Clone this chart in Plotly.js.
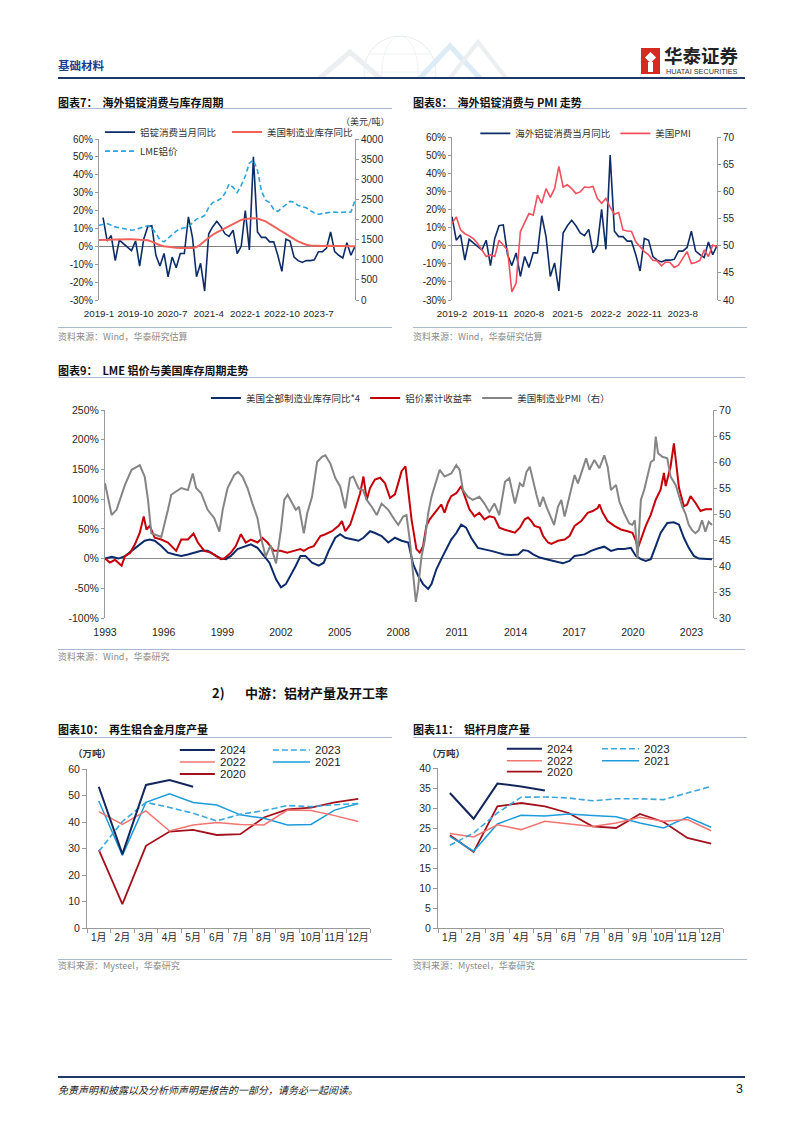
<!DOCTYPE html>
<html><head><meta charset="utf-8">
<script src="https://cdn.plot.ly/plotly-3.0.1.min.js"></script>
<style>
html,body{margin:0;padding:0;background:#fff;}
body{width:802px;height:1133px;position:relative;overflow:hidden;font-family:"Noto Sans CJK SC","Liberation Sans",sans-serif;color:#222;}
.a{position:absolute;white-space:nowrap;}
.t{font-size:11px;font-weight:bold;line-height:14px;color:#111;}
.hr{position:absolute;height:0;border-top:1px solid #a9b9d2;}
.s{font-size:9px;line-height:12px;color:#8a8a8a;}
.c{position:absolute;}
</style></head><body>

<!-- header -->
<div class="a" style="left:58px;top:57px;font-size:11.5px;font-weight:bold;color:#1c3f94;">基础材料</div>
<svg class="a" style="left:300px;top:32px;" width="220" height="46">
  <g fill="none" opacity="0.4">
    <circle cx="100" cy="40" r="36" stroke="#c9d0da" stroke-width="1"/>
    <ellipse cx="100" cy="40" rx="18" ry="36" stroke="#d3d9e1" stroke-width="0.8"/>
    <path d="M64 40 H136 M70 22 H130" stroke="#d3d9e1" stroke-width="0.8"/>
    <path d="M20 46 L50 20 L80 46" stroke="#d0d6de" stroke-width="5"/>
    <path d="M120 46 L150 14 L180 46" stroke="#a9d0ec" stroke-width="5"/>
    <path d="M150 46 L178 10 L206 46" stroke="#d0d6de" stroke-width="4"/>
  </g>
</svg>
<div class="a" style="left:641px;top:48px;width:19px;height:26px;background:#d42a20;"></div>
<div class="a" style="left:645px;top:52px;width:11px;height:11px;background:#fff;transform:rotate(45deg) scale(0.72);"></div>
<div class="a" style="left:648px;top:62px;width:5px;height:10px;background:#fff;"></div>
<div class="a" style="left:664px;top:44px;font-size:18.5px;font-weight:bold;color:#222;line-height:22px;">华泰证券</div>
<div class="a" style="left:666px;top:67px;font-size:7.3px;color:#333;font-family:'Liberation Sans',sans-serif;line-height:9px;">HUATAI SECURITIES</div>
<div class="a" style="left:58px;top:77px;width:687px;height:2px;background:#1f3864;"></div>

<!-- chart 7 -->
<div class="a t" style="left:58px;top:95px;">图表7：&nbsp;&nbsp;海外铝锭消费与库存周期</div>
<div class="hr" style="left:58px;top:108px;width:334px;"></div>
<div id="c7" class="c" style="left:58px;top:112px;width:334px;height:215px;"></div>
<div class="hr" style="left:58px;top:327px;width:334px;"></div>
<div class="a s" style="left:58px;top:331px;">资料来源：Wind，华泰研究估算</div>

<!-- chart 8 -->
<div class="a t" style="left:413px;top:95px;">图表8：&nbsp;&nbsp;海外铝锭消费与 PMI 走势</div>
<div class="hr" style="left:413px;top:108px;width:334px;"></div>
<div id="c8" class="c" style="left:413px;top:112px;width:334px;height:215px;"></div>
<div class="hr" style="left:413px;top:327px;width:334px;"></div>
<div class="a s" style="left:413px;top:331px;">资料来源：Wind，华泰研究估算</div>

<!-- chart 9 -->
<div class="a t" style="left:58px;top:363px;">图表9：&nbsp;&nbsp;LME 铝价与美国库存周期走势</div>
<div class="hr" style="left:58px;top:377px;width:687px;"></div>
<div id="c9" class="c" style="left:58px;top:380px;width:687px;height:268px;"></div>
<div class="hr" style="left:58px;top:649px;width:687px;"></div>
<div class="a s" style="left:58px;top:651px;">资料来源：Wind，华泰研究</div>

<!-- section heading -->
<div class="a" style="left:212px;top:684px;font-size:13px;font-weight:bold;color:#111;line-height:17px;">2)</div>
<div class="a" style="left:245px;top:684px;font-size:13px;font-weight:bold;color:#111;line-height:17px;">中游：铝材产量及开工率</div>

<!-- chart 10 -->
<div class="a t" style="left:58px;top:722px;">图表10：&nbsp;&nbsp;再生铝合金月度产量</div>
<div class="hr" style="left:58px;top:737px;width:334px;"></div>
<div id="c10" class="c" style="left:58px;top:738px;width:334px;height:220px;"></div>
<div class="hr" style="left:58px;top:959px;width:334px;"></div>
<div class="a s" style="left:58px;top:960px;">资料来源：Mysteel，华泰研究</div>

<!-- chart 11 -->
<div class="a t" style="left:413px;top:722px;">图表11：&nbsp;&nbsp;铝杆月度产量</div>
<div class="hr" style="left:413px;top:737px;width:334px;"></div>
<div id="c11" class="c" style="left:413px;top:738px;width:334px;height:220px;"></div>
<div class="hr" style="left:413px;top:959px;width:334px;"></div>
<div class="a s" style="left:413px;top:960px;">资料来源：Mysteel，华泰研究</div>

<!-- footer -->
<div class="a" style="left:58px;top:1076px;width:687px;height:2px;background:#1f3864;"></div>
<div class="a" style="left:58px;top:1083px;font-size:10px;font-style:italic;color:#222;line-height:14px;">免责声明和披露以及分析师声明是报告的一部分，请务必一起阅读。</div>
<div class="a" style="left:736px;top:1081px;font-size:12.5px;color:#222;font-family:'Liberation Sans',sans-serif;line-height:16px;">3</div>

<script>
const FN = 'Liberation Sans, Arial, sans-serif';
const FC = 'Noto Sans CJK SC, sans-serif';
const FM = 'Liberation Sans, Noto Sans CJK SC, sans-serif';
const TXT = '#262626';
const AXC = '#9a9a9a';

// ---------------- Charts 7 & 8 data ----------------
const months7 = [];
for (let y = 2019; y <= 2024; y++) for (let m = 1; m <= 12; m++) { if (y === 2024 && m > 4) break; months7.push(y + '-' + m); }
const months8 = months7.slice(1); // 2019-2 .. 2024-4
const ticks7 = ['2019-1','2019-10','2020-7','2021-4','2022-1','2022-10','2023-7'];
const ticks8 = ['2019-2','2019-11','2020-8','2021-5','2022-2','2022-11','2023-8'];
const pctVals7 = [-30,-20,-10,0,10,20,30,40,50,60];
const pctText7 = ['-30%','-20%','-10%','0%','10%','20%','30%','40%','50%','60%'];

// 海外铝锭消费当月同比 (%), 2019-2 .. 2024-4
const alConsYoY = [16,3,6,-8,3.5,1.5,0,-2.4,3,-11, 4,11,11.5,-5,-11,-4,-17,-6,-12,-4,
  -4,16.5,5,-17,-9.5,-25,7,11,14,11, 7,5.5,9,-4,0,20,-2,50,8,5,
  5,2.5,2.5,-5,-14,4,3,-6,-8,-9, -8,-8,-7.5,-3,-3,-1,8,-3,-5,-6.5, 2,-5,0];
// 美国制造业库存同比 (%), 2019-1 .. 2024-4
const usInvYoY = [3.6,3.7,3.8,3.9,4.0,4.0,4.1,4.0,3.9,3.8, 3.8,3.7,3.4,2.6,1.5,0.6,0.1,-0.3,-0.6,-0.8,
  -1.0,-1.1,-1.1,-0.9,-0.4,1.0,3.0,5.0,6.5,7.8, 9.0,10.2,11.4,12.6,13.8,14.8,15.3,15.6,15.7,15.5,
  14.9,14.0,12.5,11.0,9.8,8.3,7.0,5.3,4.0,2.8, 1.8,0.9,0.5,0.3,0.2,0.2,0.3,0.2,0.2,0.2, 0.1,0.2,0.1,0.1];
// LME 铝价 (美元/吨), 2019-1 .. 2024-4
const lmeAl = [1858,1880,1900,1860,1817,1795,1775,1755,1735,1750, 1775,1815,1850,1790,1660,1490,1445,1540,1640,1710,
  1770,1795,1815,1920,2010,2040,2100,2300,2420,2460, 2520,2650,2880,2800,2670,2850,3080,3400,3480,3220,
  2700,2480,2420,2250,2200,2290,2380,2450,2430,2350, 2320,2290,2220,2160,2130,2150,2165,2180,2185,2170,
  2180,2175,2185,2480];
// 美国PMI, 2019-2 .. 2024-4
const usPMI = [54.1,55.3,52.9,52.2,51.8,51.3,50.4,49.2,48,48.3, 48,51,50.1,49.2,41.5,43.1,52.6,54.4,55.9,55.6,
  59.3,57.8,60.5,58.9,60.5,64.6,60.8,61.2,60.5,59.6, 59.9,60.8,60.7,60.9,58.7,57.8,58.7,57.1,55.8,56.1,
  52.9,52.7,52.6,50.7,49.8,48.9,48.3,47.3,47.2,46.3, 47,46.9,46,46.4,47.7,48.9,46.7,46.9,47.3,49.2, 48,50.1,49.8];

// ---------------- Chart 9 data: [year, value] ----------------
const invYoY4 = [[1993.0,0],[1993.34,3],[1993.69,0],[1994.02,4],[1994.36,13],[1994.69,21],[1995.03,30],[1995.29,32],[1995.54,30],[1995.88,21],
 [1996.22,10],[1996.56,7],[1996.9,4.5],[1997.24,7],[1997.58,10],[1997.92,13],[1998.25,13],[1998.59,7],[1998.93,0],[1999.19,-1],
 [1999.44,4.5],[1999.78,16],[2000.12,20],[2000.46,24],[2000.8,18],[2001.14,4.5],[2001.41,-7],[2001.75,-35],[2002.0,-48.5],[2002.25,-43],
 [2002.5,-29],[2002.76,-12],[2003.0,4.5],[2003.25,4.5],[2003.59,-7],[2003.93,-12],[2004.19,-7],[2004.44,13],[2004.78,35],[2005.03,41],
 [2005.29,35],[2005.63,32],[2005.97,30],[2006.22,35],[2006.56,46],[2006.81,43],[2007.15,38],[2007.49,27],[2007.83,35],[2008.17,30],
 [2008.51,27],[2008.76,-9.5],[2009.02,-29],[2009.27,-43],[2009.53,-51],[2009.7,-43],[2009.95,-18],[2010.2,-1],[2010.46,16],[2010.71,32],
 [2010.97,43],[2011.22,57],[2011.47,52],[2011.73,35],[2012.07,18],[2012.41,16],[2012.75,13],[2013.08,10],[2013.42,7],[2013.76,6],
 [2014.14,7],[2014.39,14.5],[2014.64,13],[2014.9,7],[2015.24,1.7],[2015.58,-1],[2016.0,-4],[2016.42,-8],[2016.76,-4],[2017.02,4.5],
 [2017.53,7],[2017.86,13],[2018.2,17],[2018.54,20],[2018.88,13],[2019.22,16],[2019.56,16],[2019.9,18],[2020.15,4.5],[2020.41,-1],
 [2020.66,-4],[2020.92,-1],[2021.17,21],[2021.42,43],[2021.76,60],[2022.1,61],[2022.36,57],[2022.61,35],[2022.86,18],[2023.12,4.5],
 [2023.37,0],[2023.71,0],[2024.05,-1]];
const alCumRet = [[1993.0,0],[1993.25,-6.7],[1993.51,-2],[1993.85,-12],[1994.02,4],[1994.27,9],[1994.53,24],[1994.78,43.5],[1994.98,71],[1995.12,49],
 [1995.29,55],[1995.54,35],[1995.88,32],[1996.22,27],[1996.64,13],[1996.9,32],[1997.24,32],[1997.53,42],[1997.75,27],[1998.08,13],
 [1998.42,10],[1998.93,-1],[1999.1,0],[1999.44,10],[1999.69,21],[1999.95,41],[2000.2,27],[2000.46,32],[2000.8,27],[2001.05,35],
 [2001.31,27],[2001.64,13],[2001.98,13],[2002.32,10],[2002.66,13],[2003.0,16],[2003.17,13],[2003.42,18],[2003.68,21],[2004.02,38],
 [2004.27,41],[2004.61,46],[2004.95,55],[2005.12,63],[2005.29,46],[2005.54,57],[2005.8,83],[2006.05,110],[2006.22,138],[2006.39,99],
 [2006.56,119],[2006.81,133],[2007.07,136],[2007.32,127],[2007.58,102],[2007.83,108],[2008.0,127],[2008.17,147],[2008.37,155],[2008.51,119],
 [2008.68,66],[2008.93,16],[2009.1,10],[2009.27,21],[2009.44,55],[2009.61,66],[2009.86,77],[2010.03,85],[2010.2,91],[2010.37,77],
 [2010.54,94],[2010.71,105],[2010.97,110],[2011.22,122],[2011.39,105],[2011.64,83],[2011.9,71],[2012.15,77],[2012.41,66],[2012.66,71],
 [2012.92,69],[2013.17,52],[2013.42,49],[2013.76,46],[2013.97,43.5],[2014.22,52],[2014.47,66],[2014.64,69],[2014.81,63],[2014.97,55],
 [2015.24,52],[2015.41,38],[2015.66,27],[2015.83,24.5],[2016.17,30],[2016.51,32],[2016.76,38],[2017.02,55],[2017.36,63],[2017.69,77],
 [2017.95,80],[2018.2,85],[2018.29,91],[2018.46,77],[2018.71,63],[2019.05,55],[2019.39,49],[2019.73,46],[2019.98,43.5],[2020.15,30],
 [2020.26,18],[2020.41,32],[2020.66,55],[2020.92,74],[2021.17,99],[2021.42,116],[2021.59,144],[2021.68,122],[2021.76,133],[2021.93,155],
 [2022.1,194],[2022.24,155],[2022.36,119],[2022.61,88],[2022.78,91],[2022.95,105],[2023.2,94],[2023.46,80],[2023.71,83],[2024.05,83]];
const usMfgPMI = [[1993.0,55.9],[1993.34,49.8],[1993.59,50.8],[1994.02,55.6],[1994.36,58.5],[1994.78,59.4],[1995.03,57.2],[1995.2,52.7],[1995.37,46.3],[1995.63,46.0],
 [1995.88,45.6],[1996.22,50.8],[1996.39,53.7],[1996.9,55.0],[1997.24,54.6],[1997.49,57.8],[1997.66,55.0],[1997.92,54.0],[1998.25,50.8],[1998.59,49.2],
 [1998.85,46.6],[1999.02,50.8],[1999.27,55.0],[1999.61,57.5],[1999.81,58.1],[2000.03,57.2],[2000.29,55.0],[2000.54,52.0],[2000.8,49.2],[2000.97,45.6],
 [2001.22,41.8],[2001.47,44.0],[2001.75,40.5],[2002.0,47.0],[2002.17,52.7],[2002.34,53.7],[2002.76,50.8],[2002.92,51.4],[2003.17,46.3],[2003.34,50.1],
 [2003.59,53.3],[2003.85,60.0],[2004.1,61.0],[2004.27,61.3],[2004.53,59.7],[2004.78,56.9],[2005.03,55.3],[2005.29,51.1],[2005.53,56.9],[2005.7,57.2],
 [2005.97,54.9],[2006.2,54.6],[2006.39,52.7],[2006.64,51.4],[2006.9,49.8],[2007.15,52.0],[2007.49,50.8],[2007.83,48.8],[2008.0,47.9],[2008.25,49.5],
 [2008.42,49.8],[2008.59,45.0],[2008.76,38.6],[2008.9,33.1],[2009.0,35.4],[2009.19,41.8],[2009.36,45.0],[2009.53,50.1],[2009.7,53.3],[2009.95,56.2],
 [2010.12,58.5],[2010.37,57.2],[2010.71,57.8],[2010.97,59.4],[2011.14,58.5],[2011.31,54.6],[2011.56,53.3],[2011.81,52.7],[2012.15,53.3],[2012.41,52.0],
 [2012.66,50.4],[2012.92,52.0],[2013.17,49.8],[2013.46,56.2],[2013.68,56.9],[2013.97,52.0],[2014.22,55.9],[2014.39,55.3],[2014.56,58.1],[2014.73,59.1],
 [2014.9,56.2],[2015.07,53.7],[2015.24,51.4],[2015.41,53.3],[2015.58,51.4],[2015.75,49.8],[2015.97,47.9],[2016.17,51.4],[2016.34,52.7],[2016.51,49.5],
 [2016.76,53.3],[2017.02,57.5],[2017.19,55.9],[2017.36,57.8],[2017.61,60.7],[2017.78,58.5],[2018.03,60.4],[2018.29,58.8],[2018.54,61.3],[2018.71,59.1],
 [2018.88,54.6],[2019.14,55.6],[2019.31,52.4],[2019.56,50.1],[2019.81,48.2],[2019.97,47.9],[2020.1,48.8],[2020.24,41.5],[2020.41,52.7],[2020.58,54.6],
 [2020.75,57.2],[2020.92,60.0],[2021.08,60.4],[2021.17,64.9],[2021.29,61.7],[2021.51,61.0],[2021.76,60.7],[2021.93,57.2],[2022.19,55.6],[2022.36,53.3],
 [2022.53,51.4],[2022.69,50.1],[2022.86,47.9],[2023.03,46.9],[2023.2,46.3],[2023.37,46.9],[2023.54,48.8],[2023.71,46.6],[2023.88,48.5],[2024.05,47.9]];
const yearTicks9 = [1993,1996,1999,2002,2005,2008,2011,2014,2017,2020,2023];
const pctVals9 = [-100,-50,0,50,100,150,200,250];
const pctText9 = ['-100%','-50%','0%','50%','100%','150%','200%','250%'];

// ---------------- Charts 10 & 11 data ----------------
const monthNames = ['1月','2月','3月','4月','5月','6月','7月','8月','9月','10月','11月','12月'];
const alloy2024 = [53.3,27.9,54.0,55.8,53.3];
const alloy2023 = [28.9,40.2,47.4,45.5,43.3,40.4,42.9,44.3,46.2,45.8,46.5,47.0];
const alloy2022 = [43.9,39.1,44.2,36.6,38.9,39.8,39.1,38.9,44.5,44.3,42.4,40.2];
const alloy2021 = [47.9,27.4,47.4,50.6,47.4,46.4,42.7,41.4,38.9,39.1,44.5,47.0];
const alloy2020 = [29.5,9.0,31.0,36.4,37.0,35.1,35.4,41.7,44.8,45.4,47.4,48.7];
const rod2024 = [33.75,27.3,36.1,35.4,34.4];
const rod2023 = [20.7,23.75,28.75,32.7,32.75,32.5,31.8,32.3,32.3,32.1,33.75,35.4];
const rod2022 = [23.6,22.75,25.8,24.6,26.7,26.0,25.4,26.25,27.7,26.7,27.1,24.3];
const rod2021 = [22.9,19.2,26.0,28.2,28.0,28.5,28.1,27.8,26.25,25.0,27.75,25.2];
const rod2020 = [23.2,19.0,30.4,31.25,30.4,28.75,25.4,25.0,28.5,26.5,22.5,21.1];

// ---------------- styles ----------------
const cfg = {displayModeBar:false, staticPlot:true};
const base = (w,h,m) => ({width:w, height:h, margin:Object.assign({autoexpand:false}, m),
  paper_bgcolor:'rgba(0,0,0,0)', plot_bgcolor:'rgba(0,0,0,0)', font:{family:FM, size:10, color:TXT}});
const yAx = (extra) => Object.assign({showgrid:false, zeroline:false, showline:true, linecolor:AXC, linewidth:1,
  ticks:'outside', ticklen:3, tickcolor:AXC, tickfont:{family:FN, size:10, color:TXT}, fixedrange:true}, extra);
const hiddenTicks = {ticks:'outside', ticklen:4, tickcolor:'rgba(0,0,0,0)'};

// ---------------- Chart 7 ----------------
Plotly.newPlot('c7', [
  {x:months8, y:alConsYoY, name:'铝锭消费当月同比', type:'scatter', mode:'lines', line:{color:'#0e2c68', width:1.6}},
  {x:months7, y:usInvYoY, name:'美国制造业库存同比', type:'scatter', mode:'lines', line:{color:'#f0615c', width:2}},
  {x:months7, y:lmeAl, name:'LME铝价', type:'scatter', mode:'lines', yaxis:'y2', line:{color:'#2ba3dc', width:1.6, dash:'5px,3px'}}
], Object.assign(base(334,215,{l:41,r:37,t:27,b:27}), {
  showlegend:true,
  legend:{orientation:'h', x:0.004, xanchor:'left', y:1.133, yanchor:'top', entrywidth:82, bgcolor:'rgba(0,0,0,0)',
    font:{family:FC, size:9.5, color:'#333'}, itemwidth:30},
  xaxis:Object.assign({type:'category', categoryorder:'array', categoryarray:months7, range:[0,63], tickmode:'array', tickvals:ticks7, ticktext:ticks7,
    showline:false, showgrid:false, zeroline:false, tickangle:0, tickfont:{family:FN, size:9.8, color:TXT}, fixedrange:true}, hiddenTicks),
  yaxis:yAx({range:[-30,60], tickmode:'array', tickvals:pctVals7, ticktext:pctText7, zeroline:true, zerolinecolor:'#7f7f7f', zerolinewidth:1}),
  yaxis2:yAx({overlaying:'y', side:'right', range:[0,4000], tickmode:'array', tickvals:[0,500,1000,1500,2000,2500,3000,3500,4000]}),
  annotations:[{xref:'paper', yref:'paper', x:1.145, y:1.108, xanchor:'right', yanchor:'middle', showarrow:false,
    text:'（美元/吨）', font:{family:FC, size:9, color:'#333'}}]
}), cfg);

// ---------------- Chart 8 ----------------
Plotly.newPlot('c8', [
  {x:months8, y:alConsYoY, name:'海外铝锭消费当月同比', type:'scatter', mode:'lines', line:{color:'#0e2c68', width:1.6}},
  {x:months8, y:usPMI, name:'美国PMI', type:'scatter', mode:'lines', yaxis:'y2', line:{color:'#f2505e', width:1.6}}
], Object.assign(base(334,215,{l:39,r:30,t:25,b:27}), {
  showlegend:true,
  legend:{orientation:'h', x:0.088, xanchor:'left', y:1.111, yanchor:'top', bgcolor:'rgba(0,0,0,0)',
    font:{family:FC, size:9.5, color:'#333'}},
  xaxis:Object.assign({type:'category', categoryorder:'array', categoryarray:months8, range:[0,62], tickmode:'array', tickvals:ticks8, ticktext:ticks8,
    showline:false, showgrid:false, zeroline:false, tickangle:0, tickfont:{family:FN, size:9.8, color:TXT}, fixedrange:true}, hiddenTicks),
  yaxis:yAx({range:[-30,60], tickmode:'array', tickvals:pctVals7, ticktext:pctText7, zeroline:true, zerolinecolor:'#7f7f7f', zerolinewidth:1}),
  yaxis2:yAx({overlaying:'y', side:'right', range:[40,70], tickmode:'array', tickvals:[40,45,50,55,60,65,70]})
}), cfg);

// ---------------- Chart 9 ----------------
Plotly.newPlot('c9', [
  {x:invYoY4.map(p=>p[0]), y:invYoY4.map(p=>p[1]), name:'美国全部制造业库存同比*4', type:'scatter', mode:'lines', line:{color:'#0d2b6b', width:2}},
  {x:alCumRet.map(p=>p[0]), y:alCumRet.map(p=>p[1]), name:'铝价累计收益率', type:'scatter', mode:'lines', line:{color:'#c4000a', width:2}},
  {x:usMfgPMI.map(p=>p[0]), y:usMfgPMI.map(p=>p[1]), name:'美国制造业PMI（右）', type:'scatter', mode:'lines', yaxis:'y2', line:{color:'#858585', width:2}}
], Object.assign(base(687,268,{l:47,r:32,t:30,b:30}), {
  showlegend:true,
  legend:{orientation:'h', x:0.166, xanchor:'left', y:1.127, yanchor:'top', bgcolor:'rgba(0,0,0,0)',
    font:{family:FC, size:9.5, color:'#333'}},
  xaxis:Object.assign({range:[1993,2024.1], tickmode:'array', tickvals:yearTicks9, ticktext:yearTicks9.map(String), showline:false,
    showgrid:false, zeroline:false, tickangle:0, tickfont:{family:FN, size:10.5, color:TXT}, fixedrange:true}, hiddenTicks),
  yaxis:yAx({range:[-100,250], tickmode:'array', tickvals:pctVals9, ticktext:pctText9, zeroline:true, zerolinecolor:'#8c8c8c', zerolinewidth:1,
    tickfont:{family:FN, size:10.5, color:TXT}}),
  yaxis2:yAx({overlaying:'y', side:'right', range:[30,70], tickmode:'array', tickvals:[30,35,40,45,50,55,60,65,70],
    tickfont:{family:FN, size:10.5, color:TXT}})
}), cfg);

// ---------------- Charts 10 & 11 (manual legend) ----------------
const yearStyles = {
  '2024':{color:'#13275c', width:2, dash:'solid'},
  '2023':{color:'#3aa6de', width:1.6, dash:'6px,3px'},
  '2022':{color:'#f27471', width:1.5, dash:'solid'},
  '2021':{color:'#1d9cdb', width:1.5, dash:'solid'},
  '2020':{color:'#a3111c', width:1.8, dash:'solid'}
};
function legendDecor(box, slots) {
  const W = box.right - box.left, H = box.bottom - box.top;
  const px = X => (X - box.left) / W, py = Y => (box.bottom - Y) / H;
  const shapes = [], anns = [];
  slots.forEach(s => {
    const st = yearStyles[s.name];
    shapes.push({type:'line', xref:'paper', yref:'paper', x0:px(s.x), x1:px(s.x + s.len), y0:py(s.y), y1:py(s.y),
      line:{color:st.color, width:st.width, dash:st.dash}});
    anns.push({xref:'paper', yref:'paper', x:px(s.x + s.len + 3), y:py(s.y), xanchor:'left', yanchor:'middle', showarrow:false,
      text:s.name, font:{family:FN, size:11.5, color:'#222'}});
  });
  return {shapes, anns, px, py};
}
function yearChart(id, box, margin, yRange, yDtick, series, slots, unitPos) {
  const leg = legendDecor(box, slots);
  const traces = series.map(s => ({x:monthNames.slice(0, s.vals.length), y:s.vals, name:s.name, type:'scatter', mode:'lines',
    line:{color:yearStyles[s.name].color, width:yearStyles[s.name].width, dash:yearStyles[s.name].dash}}));
  const yt = []; for (let v = yRange[0]; v <= yRange[1]; v += yDtick) yt.push(v);
  leg.anns.push({xref:'paper', yref:'paper', x:leg.px(unitPos.x), y:leg.py(unitPos.y), xanchor:'left', yanchor:'middle', showarrow:false,
    text:'<b>（万吨）</b>', font:{family:FC, size:9.5, color:'#333'}});
  Plotly.newPlot(id, traces, Object.assign(base(334,220,margin), {
    showlegend:false,
    xaxis:{type:'category', categoryorder:'array', categoryarray:monthNames, range:[-0.5,11.5], showline:true, linecolor:AXC,
      ticks:'outside', tickson:'boundaries', ticklen:4, tickcolor:AXC, showgrid:false, zeroline:false, tickangle:0,
      tickfont:{family:FM, size:10, color:TXT}, fixedrange:true},
    yaxis:yAx({range:yRange, tickmode:'array', tickvals:yt, ticklen:4, tickfont:{family:FN, size:10.5, color:TXT}}),
    shapes:leg.shapes, annotations:leg.anns
  }), cfg);
}
yearChart('c10', {left:87.3, right:370, top:769, bottom:928.3}, {l:29.3, r:22, t:31, b:29.7}, [0,60], 10,
  [{name:'2020', vals:alloy2020},{name:'2021', vals:alloy2021},{name:'2022', vals:alloy2022},{name:'2023', vals:alloy2023},{name:'2024', vals:alloy2024}],
  [{name:'2024', x:180, y:750, len:35},{name:'2023', x:273, y:750, len:37},{name:'2022', x:180, y:762, len:35},
   {name:'2021', x:273, y:762, len:37},{name:'2020', x:180, y:774, len:35}],
  {x:71, y:753});
yearChart('c11', {left:438.3, right:722.7, top:768.3, bottom:928.3}, {l:25.3, r:24.3, t:30.3, b:29.7}, [0,40], 5,
  [{name:'2020', vals:rod2020},{name:'2021', vals:rod2021},{name:'2022', vals:rod2022},{name:'2023', vals:rod2023},{name:'2024', vals:rod2024}],
  [{name:'2024', x:507, y:749, len:35},{name:'2023', x:602, y:749, len:37},{name:'2022', x:507, y:761, len:35},
   {name:'2021', x:602, y:761, len:37},{name:'2020', x:507, y:772, len:35}],
  {x:425, y:753});
</script>
</body></html>
